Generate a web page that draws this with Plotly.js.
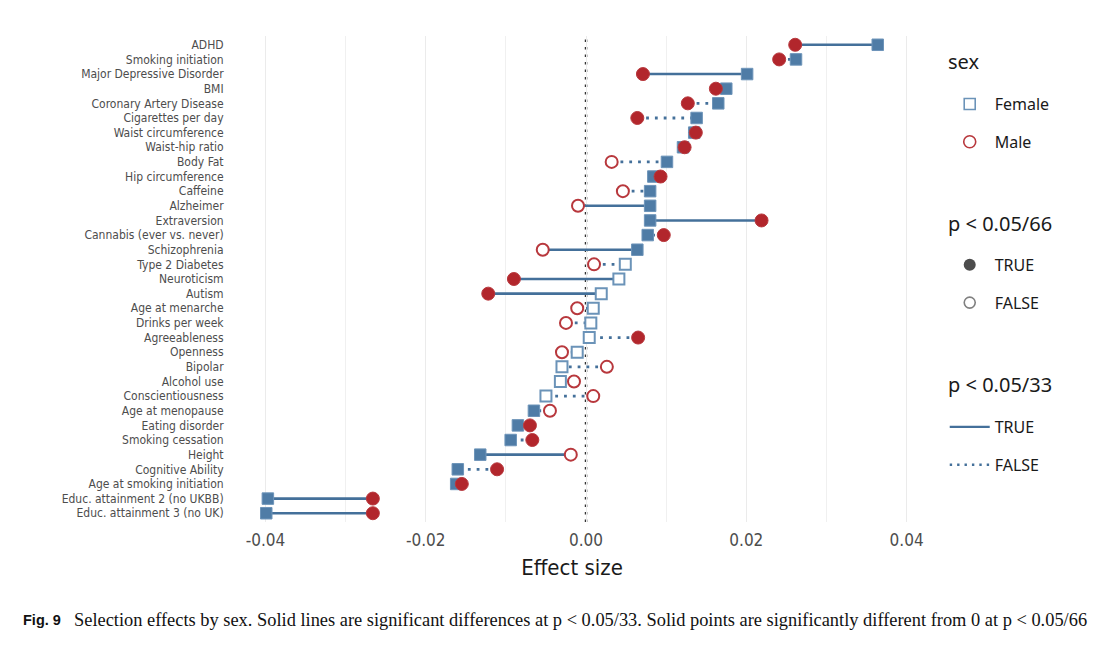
<!DOCTYPE html>
<html>
<head>
<meta charset="utf-8">
<script src="https://cdn.plot.ly/plotly-3.0.1.min.js"></script>
<style>html,body{margin:0;padding:0;background:#fff;}#chart{width:1107px;height:662px;}</style>
</head>
<body>
<div id="chart"></div>
<script>
const categories = ["ADHD","Smoking initiation","Major Depressive Disorder","BMI","Coronary Artery Disease","Cigarettes per day","Waist circumference","Waist-hip ratio","Body Fat","Hip circumference","Caffeine","Alzheimer","Extraversion","Cannabis (ever vs. never)","Schizophrenia","Type 2 Diabetes","Neuroticism","Autism","Age at menarche","Drinks per week","Agreeableness","Openness","Bipolar","Alcohol use","Conscientiousness","Age at menopause","Eating disorder","Smoking cessation","Height","Cognitive Ability","Age at smoking initiation","Educ. attainment 2 (no UKBB)","Educ. attainment 3 (no UK)"];

const femaleEffect = [0.0364,0.0262,0.0201,0.0175,0.0165,0.0138,0.0135,0.0121,0.0101,0.0084,0.0080,0.0080,0.0080,0.0077,0.0064,0.0049,0.0041,0.0019,0.0009,0.0006,0.0004,-0.0011,-0.0030,-0.0032,-0.0050,-0.0065,-0.0085,-0.0094,-0.0132,-0.0160,-0.0162,-0.0397,-0.0399];
const maleEffect = [0.0261,0.0241,0.0071,0.0162,0.0127,0.0064,0.0137,0.0123,0.0032,0.0093,0.0046,-0.0010,0.0219,0.0097,-0.0054,0.0010,-0.0090,-0.0122,-0.0011,-0.0025,0.0065,-0.0030,0.0026,-0.0015,0.0009,-0.0045,-0.0070,-0.0067,-0.0019,-0.0111,-0.0155,-0.0266,-0.0266];

// p < 0.05/66 (point significantly different from 0)
const femaleSig = [1,1,1,1,1,1,1,1,1,1,1,1,1,1,1,0,0,0,0,0,0,0,0,0,0,1,1,1,1,1,1,1,1];
const maleSig   = [1,1,1,1,1,1,1,1,0,1,0,0,1,1,0,0,1,1,0,0,1,0,0,0,0,0,1,1,0,1,1,1,1];
// p < 0.05/33 (difference between sexes)
const diffSig   = [1,0,1,0,0,0,0,0,0,0,0,1,1,0,1,0,1,1,0,0,0,0,0,0,0,0,0,0,1,0,0,1,1];

const tickVals = [-0.04,-0.02,0,0.02,0.04];
const tickText = ["-0.04","-0.02","0.00","0.02","0.04"];
const minorVals = [-0.03,-0.01,0.01,0.03];

const FEM = '#4f7ca6', MAL = '#b2262c', LINE = '#44709a';
const CONDENSED = '"DejaVu Sans Condensed","Liberation Sans Narrow",sans-serif';
const LEGFONT = '"Noto Sans",sans-serif';

function segs(flag){
  const xs = [], ys = [];
  categories.forEach((c,i)=>{ if(diffSig[i]===flag){ xs.push(maleEffect[i], femaleEffect[i], null); ys.push(c,c,null);} });
  return {x:xs,y:ys};
}
function pts(vals, sig, flag){
  const xs=[], ys=[];
  categories.forEach((c,i)=>{ if(sig[i]===flag){ xs.push(vals[i]); ys.push(c);} });
  return {x:xs,y:ys};
}

const sSolid = segs(1), sDot = segs(0);
const fF = pts(femaleEffect,femaleSig,1), fO = pts(femaleEffect,femaleSig,0);
const mF = pts(maleEffect,maleSig,1), mO = pts(maleEffect,maleSig,0);

const traces = [
  {type:'scatter', mode:'lines', x:sDot.x, y:sDot.y, line:{color:LINE,width:2.8,dash:'2.8px,6px'}, showlegend:false, hoverinfo:'skip', connectgaps:false},
  {type:'scatter', mode:'lines', x:sSolid.x, y:sSolid.y, line:{color:LINE,width:2.6}, showlegend:false, hoverinfo:'skip', connectgaps:false},
  {type:'scatter', mode:'markers', x:fF.x, y:fF.y, marker:{symbol:'square', size:11.5, color:FEM, line:{color:'#6d94b9',width:1}}, showlegend:false},
  {type:'scatter', mode:'markers', x:fO.x, y:fO.y, marker:{symbol:'square', size:11, color:'white', line:{color:'#6b93b8',width:2}}, showlegend:false},
  {type:'scatter', mode:'markers', x:mF.x, y:mF.y, marker:{symbol:'circle', size:13, color:MAL, line:{color:'#b8383d',width:1}}, showlegend:false},
  {type:'scatter', mode:'markers', x:mO.x, y:mO.y, marker:{symbol:'circle', size:12, color:'white', line:{color:'#b8383d',width:2}}, showlegend:false},
  // legend keys
  {type:'scatter', mode:'markers', x:[null], y:[null], name:'Female', legend:'legend', legendgroup:'a1', marker:{symbol:'square-open', size:11, color:'#6b93b8', line:{width:1.6}}},
  {type:'scatter', mode:'markers', x:[null], y:[null], name:'Male', legend:'legend', legendgroup:'a2', marker:{symbol:'circle-open', size:12, color:'#b8383d', line:{width:1.6}}},
  {type:'scatter', mode:'markers', x:[null], y:[null], name:'TRUE', legend:'legend2', legendgroup:'b1', marker:{symbol:'circle', size:12, color:'#4d4d4d'}},
  {type:'scatter', mode:'markers', x:[null], y:[null], name:'FALSE', legend:'legend2', legendgroup:'b2', marker:{symbol:'circle-open', size:11, color:'#808080', line:{width:1.6}}},
  {type:'scatter', mode:'lines', x:[null], y:[null], name:'TRUE', legend:'legend3', legendgroup:'c1', line:{color:LINE,width:2.4}},
  {type:'scatter', mode:'lines', x:[null], y:[null], name:'FALSE', legend:'legend3', legendgroup:'c2', line:{color:LINE,width:2.4,dash:'2.4px,5px'}}
];

const legBase = {xref:'paper', yref:'paper', x:1.053, xanchor:'left', yanchor:'top', bgcolor:'rgba(0,0,0,0)', font:{family:LEGFONT, size:16, color:'#1a1a1a'}, tracegroupgap:14, itemwidth:40, itemclick:false};

function legTitle(text, y){
  return {xref:'paper', yref:'paper', x:1.0549, y:y, xanchor:'left', yanchor:'middle', showarrow:false, text:text,
    font:{family:LEGFONT, size:20, color:'#1a1a1a'}};
}

const layout = {
  width:1107, height:662,
  margin:{l:235, r:198, t:36, b:140},
  paper_bgcolor:'white', plot_bgcolor:'white',
  font:{family:CONDENSED, color:'#4d4d4d'},
  xaxis:{range:[-0.0438,0.0403], tickmode:'array', tickvals:tickVals, ticktext:tickText, showgrid:true, gridcolor:'#ebebeb', gridwidth:1,
    minor:{tickmode:'array', tickvals:minorVals, showgrid:true, gridcolor:'#f0f0f0', gridwidth:1, ticks:''},
    zeroline:false, showline:false, ticks:'', ticklabelstandoff:6, tickfont:{family:CONDENSED, size:17, color:'#4d4d4d'},
    title:{text:'Effect size', font:{family:CONDENSED, size:22, color:'#1a1a1a'}, standoff:10}},
  yaxis:{type:'category', categoryorder:'array', categoryarray:categories, tickmode:'array', tickvals:categories, ticktext:categories,
    range:[32.6,-0.6], showgrid:false, zeroline:false, showline:false,
    ticks:'outside', ticklen:8, tickcolor:'rgba(0,0,0,0)', tickfont:{family:CONDENSED, size:12, color:'#4d4d4d'}},
  shapes:[{type:'line', xref:'x', yref:'paper', x0:0, x1:0, y0:0, y1:1, line:{color:'#333333', width:2.5, dash:'2.5px,5px'}, layer:'below'}],
  legend: Object.assign({}, legBase, {y:0.895}),
  legend2: Object.assign({}, legBase, {y:0.564}),
  legend3: Object.assign({}, legBase, {y:0.2305}),
  annotations:[
    legTitle('sex', 0.9485),
    legTitle('p &lt; 0.05/66', 0.6132),
    legTitle('p &lt; 0.05/33', 0.2819),
    {xref:'paper', yref:'paper', x:-0.3175, y:-0.2016, xanchor:'left', yanchor:'middle', showarrow:false,
      text:'<b>Fig. 9</b>', font:{family:'"Liberation Sans",Arial,sans-serif', size:14.5, color:'#111'}},
    {xref:'paper', yref:'paper', x:-0.2418, y:-0.2016, xanchor:'left', yanchor:'middle', showarrow:false,
      text:'Selection effects by sex. Solid lines are significant differences at p &lt; 0.05/33. Solid points are significantly different from 0 at p &lt; 0.05/66',
      font:{family:'"Liberation Serif","Times New Roman",serif', size:18.4, color:'#111'}}
  ]
};

Plotly.newPlot('chart', traces, layout, {displayModeBar:false, staticPlot:true});
</script>
</body>
</html>
